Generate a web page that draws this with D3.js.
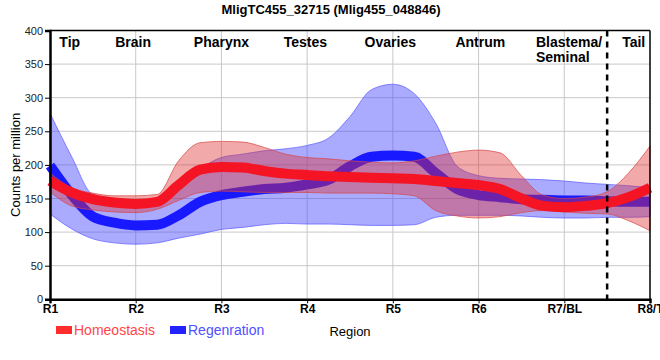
<!DOCTYPE html>
<html><head><meta charset="utf-8">
<script src="https://cdn.jsdelivr.net/npm/d3@7"></script>
<style>body{margin:0;background:#fff}svg{display:block}</style>
</head><body><svg id="c" width="660" height="360"></svg>
<script>
const title = "MligTC455_32715 (Mlig455_048846)";
const categories = ["R1","R2","R3","R4","R5","R6","R7/BL","R8/T"];
const regionNames = ["Tip","Brain","Pharynx","Testes","Ovaries","Antrum","Blastema/\nSeminal","Tail"];
const regionLabelAt = [1.23,1.97,3.0,3.98,4.97,6.02,7.02,7.81];
const yTicks = [0,50,100,150,200,250,300,350,400];
const samplePos = [1,1.25,1.5,1.75,2,2.25,2.5,2.75,3,3.25,3.5,3.75,4,4.25,4.5,4.75,5,5.25,5.5,5.75,6,6.25,6.5,6.75,7,7.25,7.5,7.75,8];
const homeoMean  = [176,159,149,144,142,145,170,193,197,196,191,187,185,183,182,181,180,179,176,173,170,164,150,139,137,139,143,152,166];
const homeoUpper = [188,166,158,154,154,156,206,233,235,234,226,216,211,209,206,204,203,206,213,219,222,218,184,155,150,152,160,188,228];
const homeoLower = [160,139,133,130,129,134,147,159,161,160,159,159,159,158,158,158,157,154,132,124,121,123,129,132,130,128,127,117,102];
const regenMean  = [199,156,123,114,110,111,125,145,155,160,164,166,171,178,198,212,214,212,188,164,155,152,149,148,147,147,146,145,145];
const regenUpper = [277,213,156,150,148,146,160,193,211,216,221,224,229,240,272,312,320,306,262,198,184,180,179,178,176,173,171,169,166];
const regenLower = [127,105,90,84,82,84,91,97,104,107,111,113,112,112,111,110,110,111,122,125,125,125,124,122,121,121,122,122,123];
const dividerAt = 7.5;

const svg = d3.select("#c");
const L=50,R=650,T=30.5,B=299.3;
const x = d3.scaleLinear().domain([1,8]).range([L,R]);
const y = d3.scaleLinear().domain([0,400]).range([B,T]);
const FONT = "'Liberation Sans', Arial, sans-serif";

// grid
svg.append("g").selectAll("line").data(yTicks.slice(1,-1)).join("line")
  .attr("x1",L).attr("x2",R).attr("y1",d=>y(d)).attr("y2",d=>y(d))
  .attr("stroke","#c8c8c8").attr("stroke-width",1);
svg.append("g").selectAll("line").data(d3.range(2,8)).join("line")
  .attr("y1",T).attr("y2",B).attr("x1",d=>x(d)).attr("x2",d=>x(d))
  .attr("stroke","#c8c8c8").attr("stroke-width",1);

const area = (lo,hi)=>d3.area().x((d,i)=>x(samplePos[i])).y0((d,i)=>y(lo[i])).y1((d,i)=>y(hi[i])).curve(d3.curveMonotoneX)(samplePos);
const line = (m)=>d3.line().x((d,i)=>x(samplePos[i])).y((d,i)=>y(m[i])).curve(d3.curveMonotoneX)(samplePos);

// regeneration band + line
svg.append("path").attr("d",area(regenLower,regenUpper))
  .attr("fill","rgb(70,70,255)").attr("fill-opacity",0.46)
  .attr("stroke","rgb(90,90,255)").attr("stroke-opacity",0.7).attr("stroke-width",1);
svg.append("path").attr("d",line(regenMean)).attr("fill","none")
  .attr("stroke","rgb(25,25,255)").attr("stroke-width",10).attr("stroke-linecap","butt");
// homeostasis band + line
svg.append("path").attr("d",area(homeoLower,homeoUpper))
  .attr("fill","rgb(225,50,50)").attr("fill-opacity",0.42)
  .attr("stroke","rgb(215,70,70)").attr("stroke-opacity",0.7).attr("stroke-width",1);
svg.append("path").attr("d",line(homeoMean)).attr("fill","none")
  .attr("stroke","rgb(245,20,35)").attr("stroke-width",10).attr("stroke-linecap","butt");

// divider
svg.append("line").attr("x1",x(dividerAt)).attr("x2",x(dividerAt)).attr("y1",T).attr("y2",B)
  .attr("stroke","#000").attr("stroke-width",2.5).attr("stroke-dasharray","6,5");

// frame
svg.append("line").attr("x1",L).attr("x2",R).attr("y1",T).attr("y2",T).attr("stroke","#000").attr("stroke-width",1.5);
svg.append("line").attr("x1",R).attr("x2",R).attr("y1",T).attr("y2",B).attr("stroke","#000").attr("stroke-width",1.5);

// axes
const yAx = svg.append("g").attr("transform",`translate(${L},0)`)
  .call(d3.axisLeft(y).tickValues(yTicks).tickSize(5).tickPadding(2));
yAx.select(".domain").attr("stroke-width",2.5);
yAx.selectAll("text").attr("font-family",FONT).attr("font-size",11).attr("fill","#222");
const xAx = svg.append("g").attr("transform",`translate(0,${B})`)
  .call(d3.axisBottom(x).tickValues(d3.range(1,9)).tickFormat((d,i)=>categories[i]).tickSize(4).tickPadding(1));
xAx.select(".domain").attr("stroke-width",2.5);
xAx.selectAll("text").attr("font-family",FONT).attr("font-size",12).attr("font-weight","bold").attr("fill","#000");

// region labels
regionNames.forEach((n,i)=>{
  const parts = n.split("\n");
  const t = svg.append("text").attr("font-family",FONT).attr("font-size",14).attr("font-weight","bold")
    .attr("x",x(regionLabelAt[i])).attr("y",47).attr("text-anchor",parts.length>1?"start":"middle");
  if(parts.length>1){
    const w = 60;
    t.attr("x",x(regionLabelAt[i])-w/2);
    parts.forEach((p,k)=>t.append("tspan").attr("x",x(regionLabelAt[i])-w/2).attr("dy",k?15:0).text(p));
  } else t.text(n);
});

// title
svg.append("text").attr("x",331).attr("y",14).attr("text-anchor","middle")
  .attr("font-family",FONT).attr("font-size",13).attr("font-weight","bold").text(title);
// y label
svg.append("text").attr("transform",`translate(20,${(T+B)/2}) rotate(-90)`).attr("text-anchor","middle")
  .attr("font-family",FONT).attr("font-size",13).text("Counts per million");
// x label
svg.append("text").attr("x",(L+R)/2).attr("y",336).attr("text-anchor","middle")
  .attr("font-family",FONT).attr("font-size",13).text("Region");

// legend
const legend = [{name:"Homeostasis",c:"rgb(255,45,45)",t:"rgb(255,70,70)",x:56},{name:"Regenration",c:"rgb(35,35,255)",t:"rgb(80,80,255)",x:170}];
legend.forEach(l=>{
  svg.append("rect").attr("x",l.x).attr("y",326).attr("width",16).attr("height",8).attr("fill",l.c);
  svg.append("text").attr("x",l.x+18).attr("y",335).attr("font-family",FONT).attr("font-size",14).attr("fill",l.t).text(l.name);
});
</script></body></html>
